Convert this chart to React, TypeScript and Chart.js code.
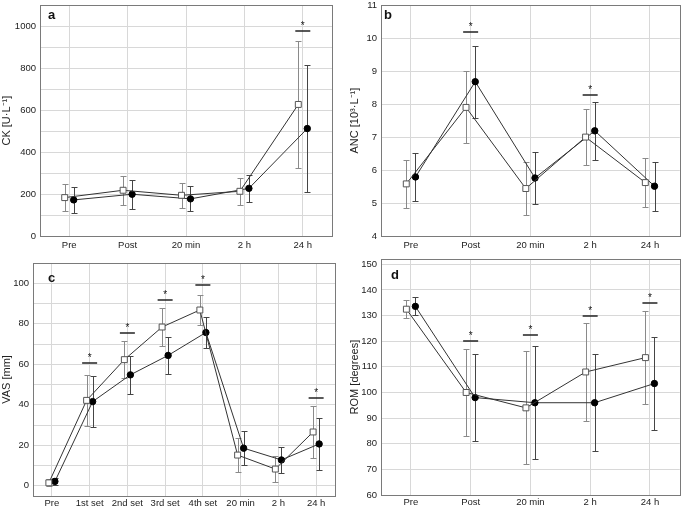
import React, { useEffect, useRef } from 'react';
import { Chart, registerables } from 'chart.js';

Chart.register(...registerables);

const FONT = '"Liberation Sans", Arial, Helvetica, sans-serif';

// ---------- Panel a: CK ----------
const ckCategories = ['Pre', 'Post', '20 min', '2 h', '24 h'];
const ckSquare = [183, 218, 194, 213, 627];
const ckSquareSD = [63, 69, 60, 65, 301];
const ckCircle = [172, 199, 177, 227, 512];
const ckCircleSD = [62, 69, 60, 65, 302];
const ckSigIdx = [4];
const ckSigY = [975];
const ckGrid = [0, 100, 200, 300, 400, 500, 600, 700, 800, 900, 1000, 1100];
const ckLabels = [0, 200, 400, 600, 800, 1000];

// ---------- Panel b: ANC ----------
const ancCategories = ['Pre', 'Post', '20 min', '2 h', '24 h'];
const ancSquare = [5.58, 7.9, 5.44, 7.0, 5.62];
const ancSquareSD = [0.72, 1.09, 0.79, 0.86, 0.74];
const ancCircle = [5.79, 8.68, 5.76, 7.19, 5.51];
const ancCircleSD = [0.73, 1.09, 0.78, 0.87, 0.74];
const ancSigIdx = [1, 3];
const ancSigY = [10.18, 8.29];
const ancGrid = [4, 5, 6, 7, 8, 9, 10, 11];
const ancLabels = [4, 5, 6, 7, 8, 9, 10, 11];

// ---------- Panel c: VAS ----------
const vasCategories = ['Pre', '1st set', '2nd set', '3rd set', '4th set', '20 min', '2 h', '24 h'];
const vasSquare = [1.5, 42.2, 62.3, 78.4, 86.8, 15.2, 8.3, 26.6];
const vasSquareSD = [1.8, 12.6, 9.3, 9.3, 7.6, 8.4, 6.4, 12.8];
const vasCircle = [2.2, 41.6, 54.8, 64.4, 75.7, 18.6, 12.8, 20.7];
const vasCircleSD = [1.8, 12.7, 9.3, 9.3, 7.8, 8.4, 6.6, 12.8];
const vasSigIdx = [1, 2, 3, 4, 7];
const vasSigY = [60.5, 75.6, 91.7, 99, 43.6];
const vasGrid = [-5, 0, 10, 20, 30, 40, 50, 60, 70, 80, 90, 100, 110];
const vasLabels = [0, 20, 40, 60, 80, 100];

// ---------- Panel d: ROM ----------
const romCategories = ['Pre', 'Post', '20 min', '2 h', '24 h'];
const romSquare = [132.5, 100, 94, 108, 113.6];
const romSquareSD = [3.6, 17, 22, 19, 18.1];
const romCircle = [133.6, 98, 96, 96, 103.5];
const romCircleSD = [3.5, 17, 22, 19, 18.3];
const romSigIdx = [1, 2, 3, 4];
const romSigY = [120.1, 122.4, 129.9, 134.8];
const romGrid = [60, 70, 80, 90, 100, 110, 120, 130, 140, 150];
const romLabels = [60, 70, 80, 90, 100, 110, 120, 130, 140, 150];

type Panel = {
  letter: string;
  yTitle: string;
  categories: string[];
  sq: number[];
  sqSD: number[];
  ci: number[];
  ciSD: number[];
  sigIdx: number[];
  sigY: number[];
  grid: number[];
  labels: number[];
  yMin: number;
  yMax: number;
  jitter: number;
  left: number;
  top: number;
  w: number;
  h: number;
  padTop: number;
  padRight: number;
  padLeft: number;
  yWidth: number;
  xHeight: number;
  xPad: number;
  titlePad: number;
  letterX: number;
  letterY: number;
};

const panels: Panel[] = [
  {
    letter: 'a', yTitle: 'CK [U·L⁻¹]', categories: ckCategories,
    sq: ckSquare, sqSD: ckSquareSD, ci: ckCircle, ciSD: ckCircleSD,
    sigIdx: ckSigIdx, sigY: ckSigY, grid: ckGrid, labels: ckLabels,
    yMin: 0, yMax: 1100, jitter: 0.077,
    left: 0, top: 0, w: 342, h: 254, padTop: 4, padRight: 10, padLeft: 0,
    yWidth: 40, xHeight: 18, xPad: 4, titlePad: 0, letterX: 48, letterY: 19,
  },
  {
    letter: 'b', yTitle: 'ANC [10³·L⁻¹]', categories: ancCategories,
    sq: ancSquare, sqSD: ancSquareSD, ci: ancCircle, ciSD: ancCircleSD,
    sigIdx: ancSigIdx, sigY: ancSigY, grid: ancGrid, labels: ancLabels,
    yMin: 4, yMax: 11, jitter: 0.077,
    left: 342, top: 0, w: 343, h: 254, padTop: 3, padRight: 2, padLeft: 0,
    yWidth: 39, xHeight: 18, xPad: 4, titlePad: 6, letterX: 42, letterY: 19,
  },
  {
    letter: 'c', yTitle: 'VAS [mm]', categories: vasCategories,
    sq: vasSquare, sqSD: vasSquareSD, ci: vasCircle, ciSD: vasCircleSD,
    sigIdx: vasSigIdx, sigY: vasSigY, grid: vasGrid, labels: vasLabels,
    yMin: -5, yMax: 110, jitter: 0.08,
    left: 0, top: 254, w: 342, h: 254, padTop: 9, padRight: 7, padLeft: 0,
    yWidth: 33, xHeight: 12, xPad: 2, titlePad: 0, letterX: 48, letterY: 28,
  },
  {
    letter: 'd', yTitle: 'ROM [degrees]', categories: romCategories,
    sq: romSquare, sqSD: romSquareSD, ci: romCircle, ciSD: romCircleSD,
    sigIdx: romSigIdx, sigY: romSigY, grid: romGrid, labels: romLabels,
    yMin: 60, yMax: 152, jitter: 0.075,
    left: 342, top: 254, w: 343, h: 254, padTop: 5, padRight: 1, padLeft: 0,
    yWidth: 39, xHeight: 13, xPad: 2, titlePad: 6, letterX: 49, letterY: 25,
  },
];

function PanelChart({ p }: { p: Panel }) {
  const ref = useRef<HTMLCanvasElement>(null);

  useEffect(() => {
    const canvas = ref.current;
    if (!canvas) return;

    const decor = {
      id: 'decor',
      beforeDatasetsDraw(chart: any) {
        const { ctx } = chart;
        const x = chart.scales.x;
        const y = chart.scales.y;
        const series = [
          { m: p.sq, sd: p.sqSD, off: -p.jitter, color: '#8a8a8a' },
          { m: p.ci, sd: p.ciSD, off: p.jitter, color: '#454545' },
        ];
        ctx.save();
        ctx.lineWidth = 1;
        for (const s of series) {
          ctx.strokeStyle = s.color;
          s.m.forEach((v, i) => {
            const px = Math.round(x.getPixelForValue(i + s.off)) + 0.5;
            const yt = Math.round(y.getPixelForValue(v + s.sd[i])) + 0.5;
            const yb = Math.round(y.getPixelForValue(v - s.sd[i])) + 0.5;
            ctx.beginPath();
            ctx.moveTo(px, yt);
            ctx.lineTo(px, yb);
            ctx.moveTo(px - 3, yt);
            ctx.lineTo(px + 3, yt);
            ctx.moveTo(px - 3, yb);
            ctx.lineTo(px + 3, yb);
            ctx.stroke();
          });
        }
        ctx.restore();
      },
      afterDraw(chart: any) {
        const { ctx, chartArea } = chart;
        const x = chart.scales.x;
        const y = chart.scales.y;
        ctx.save();
        // frame
        ctx.strokeStyle = '#7a7a7a';
        ctx.lineWidth = 1;
        ctx.strokeRect(
          Math.round(chartArea.left) + 0.5,
          Math.round(chartArea.top) + 0.5,
          Math.round(chartArea.right - chartArea.left),
          Math.round(chartArea.bottom - chartArea.top)
        );
        // panel letter
        ctx.fillStyle = '#111';
        ctx.font = `bold 13px ${FONT}`;
        ctx.textBaseline = 'alphabetic';
        ctx.textAlign = 'left';
        ctx.fillText(p.letter, p.letterX, p.letterY);
        // significance markers
        ctx.strokeStyle = '#222';
        ctx.lineWidth = 1.5;
        ctx.font = `10px ${FONT}`;
        ctx.textAlign = 'center';
        p.sigIdx.forEach((idx, k) => {
          const cx = x.getPixelForValue(idx);
          const py = Math.round(y.getPixelForValue(p.sigY[k]));
          ctx.beginPath();
          ctx.moveTo(cx - 7.5, py);
          ctx.lineTo(cx + 7.5, py);
          ctx.stroke();
          ctx.fillText('*', cx, py - 2);
        });
        ctx.restore();
      },
    };

    const chart = new Chart(canvas, {
      type: 'line',
      data: {
        datasets: [
          {
            data: p.sq.map((v, i) => ({ x: i - p.jitter, y: v })),
            borderColor: '#333',
            borderWidth: 1,
            pointStyle: 'rect',
            pointRadius: 4.2,
            pointBackgroundColor: '#ffffff',
            pointBorderColor: '#555',
            pointBorderWidth: 1,
            tension: 0,
            fill: false,
          },
          {
            data: p.ci.map((v, i) => ({ x: i + p.jitter, y: v })),
            borderColor: '#333',
            borderWidth: 1,
            pointStyle: 'circle',
            pointRadius: 3.2,
            pointBackgroundColor: '#000',
            pointBorderColor: '#000',
            pointBorderWidth: 1,
            tension: 0,
            fill: false,
          },
        ],
      },
      options: {
        responsive: false,
        animation: false,
        events: [],
        layout: {
          padding: { top: p.padTop, right: p.padRight, left: p.padLeft, bottom: 0 },
        },
        plugins: {
          legend: { display: false },
          tooltip: { enabled: false },
        },
        scales: {
          x: {
            type: 'linear',
            min: -0.5,
            max: p.categories.length - 0.5,
            afterBuildTicks: (s: any) => {
              s.ticks = p.categories.map((_, i) => ({ value: i }));
            },
            afterFit: (s: any) => {
              s.height = p.xHeight;
              s.paddingLeft = 0;
              s.paddingRight = 0;
            },
            ticks: {
              autoSkip: false,
              maxRotation: 0,
              padding: p.xPad,
              color: '#222',
              font: { family: FONT, size: 9.5 },
              callback: (v: any) => p.categories[Math.round(Number(v))] ?? '',
            },
            grid: { color: '#d8d8d8', lineWidth: 1, drawTicks: false },
            border: { display: false },
          },
          y: {
            type: 'linear',
            min: p.yMin,
            max: p.yMax,
            afterBuildTicks: (s: any) => {
              s.ticks = p.grid.map((v) => ({ value: v }));
            },
            afterFit: (s: any) => {
              s.width = p.yWidth;
              s.paddingTop = 0;
              s.paddingBottom = 0;
            },
            ticks: {
              padding: 4,
              color: '#222',
              font: { family: FONT, size: 9.5 },
              callback: (v: any) => (p.labels.includes(Number(v)) ? String(v) : ''),
            },
            grid: { color: '#d8d8d8', lineWidth: 1, drawTicks: false },
            border: { display: false },
            title: {
              display: true,
              text: p.yTitle,
              color: '#222',
              font: { family: FONT, size: 11 },
              padding: { top: p.titlePad, bottom: 0 },
            },
          },
        },
      },
      plugins: [decor],
    } as any);

    return () => chart.destroy();
  }, [p]);

  return (
    <canvas
      ref={ref}
      width={p.w}
      height={p.h}
      style={{ position: 'absolute', left: p.left, top: p.top, width: p.w, height: p.h }}
    />
  );
}

export default function App() {
  useEffect(() => {
    document.body.style.margin = '0';
    document.body.style.background = '#ffffff';
  }, []);
  return (
    <div style={{ position: 'relative', width: 685, height: 508, background: '#fff', overflow: 'hidden' }}>
      {panels.map((p) => (
        <PanelChart key={p.letter} p={p} />
      ))}
    </div>
  );
}
